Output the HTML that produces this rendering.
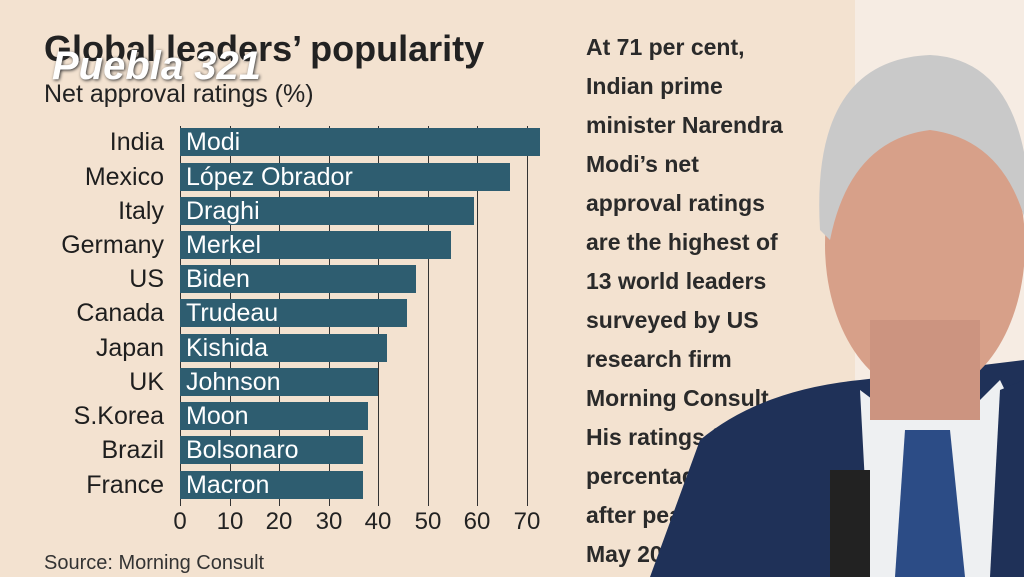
<!DOCTYPE html>
<html><head><meta charset="utf-8"><style>
body{margin:0;width:1024px;height:577px;overflow:hidden;background:#f3e2d0;font-family:"Liberation Sans",sans-serif;position:relative}
.a{position:absolute;white-space:nowrap}
.lab{position:absolute;right:860px;font-size:25px;color:#1e1e1e;text-align:right}
.bar{position:absolute;left:180px;height:28px;background:#2e5d70;color:#fff;font-size:25px;line-height:28px;padding-left:6px;box-sizing:border-box}
.g{position:absolute;top:126px;width:1px;height:380px;background:#333}
.t{position:absolute;top:508px;font-size:24px;color:#222;width:40px;margin-left:-20px;text-align:center}
.r{position:absolute;left:586px;font-size:23px;font-weight:bold;color:#2a2a2a}
</style></head><body>
<div style="position:absolute;left:855px;top:0;width:169px;height:577px;background:#f6ece3"></div>
<div class="a" style="left:44px;top:28px;font-size:36px;font-weight:bold;color:#222">Global leaders’ popularity</div>
<div class="a" style="left:44px;top:80px;font-size:25px;color:#222">Net approval ratings (%)</div>
<div class="a" style="left:52px;top:44px;font-size:40px;font-weight:bold;font-style:italic;color:#fff;text-shadow:1px 1px 3px #333">Puebla 321</div>
<div class="g" style="left:180px"></div><div class="g" style="left:230px"></div><div class="g" style="left:279px"></div><div class="g" style="left:329px"></div><div class="g" style="left:378px"></div><div class="g" style="left:428px"></div><div class="g" style="left:477px"></div><div class="g" style="left:527px"></div>
<div class="lab" style="top:128px">India</div><div class="bar" style="top:128px;width:360px">Modi</div>
<div class="lab" style="top:163px">Mexico</div><div class="bar" style="top:163px;width:330px">López Obrador</div>
<div class="lab" style="top:197px">Italy</div><div class="bar" style="top:197px;width:294px">Draghi</div>
<div class="lab" style="top:231px">Germany</div><div class="bar" style="top:231px;width:271px">Merkel</div>
<div class="lab" style="top:265px">US</div><div class="bar" style="top:265px;width:236px">Biden</div>
<div class="lab" style="top:299px">Canada</div><div class="bar" style="top:299px;width:227px">Trudeau</div>
<div class="lab" style="top:334px">Japan</div><div class="bar" style="top:334px;width:207px">Kishida</div>
<div class="lab" style="top:368px">UK</div><div class="bar" style="top:368px;width:198px">Johnson</div>
<div class="lab" style="top:402px">S.Korea</div><div class="bar" style="top:402px;width:188px">Moon</div>
<div class="lab" style="top:436px">Brazil</div><div class="bar" style="top:436px;width:183px">Bolsonaro</div>
<div class="lab" style="top:471px">France</div><div class="bar" style="top:471px;width:183px">Macron</div>
<div class="t" style="left:180px">0</div><div class="t" style="left:230px">10</div><div class="t" style="left:279px">20</div><div class="t" style="left:329px">30</div><div class="t" style="left:378px">40</div><div class="t" style="left:428px">50</div><div class="t" style="left:477px">60</div><div class="t" style="left:527px">70</div>
<div class="a" style="left:44px;top:552px;font-size:20px;color:#333">Source: Morning Consult</div>
<div class="r" style="top:34px">At 71 per cent,</div>
<div class="r" style="top:73px">Indian prime</div>
<div class="r" style="top:112px">minister Narendra</div>
<div class="r" style="top:151px">Modi’s net</div>
<div class="r" style="top:190px">approval ratings</div>
<div class="r" style="top:229px">are the highest of</div>
<div class="r" style="top:268px">13 world leaders</div>
<div class="r" style="top:307px">surveyed by US</div>
<div class="r" style="top:346px">research firm</div>
<div class="r" style="top:385px">Morning Consult.</div>
<div class="r" style="top:424px">His ratings fell</div>
<div class="r" style="top:463px">percentage</div>
<div class="r" style="top:502px">after peak</div>
<div class="r" style="top:541px">May 20</div>
<svg class="a" style="left:0;top:0" width="1024" height="577">
<path d="M650 577 L700 440 Q760 390 860 380 L1024 360 L1024 577 Z" fill="#1f3158"/>
<path d="M860 390 L900 420 L960 420 L1000 380 L1024 430 L1024 577 L870 577 Z" fill="#eef0f2"/>
<path d="M905 430 L950 430 L965 577 L895 577 Z" fill="#2c4c86"/>
<path d="M1000 390 L1024 380 L1024 577 L990 577 Z" fill="#1f3158"/>
<ellipse cx="925" cy="245" rx="100" ry="150" fill="#d7a089"/>
<rect x="870" y="320" width="110" height="100" fill="#cc9480"/>
<path d="M820 230 Q810 60 930 55 Q1035 60 1030 240 Q1010 140 930 130 Q850 140 830 240 Z" fill="#c9c9c9"/>
<rect x="830" y="470" width="40" height="107" fill="#222"/>
</svg>
</body></html>
